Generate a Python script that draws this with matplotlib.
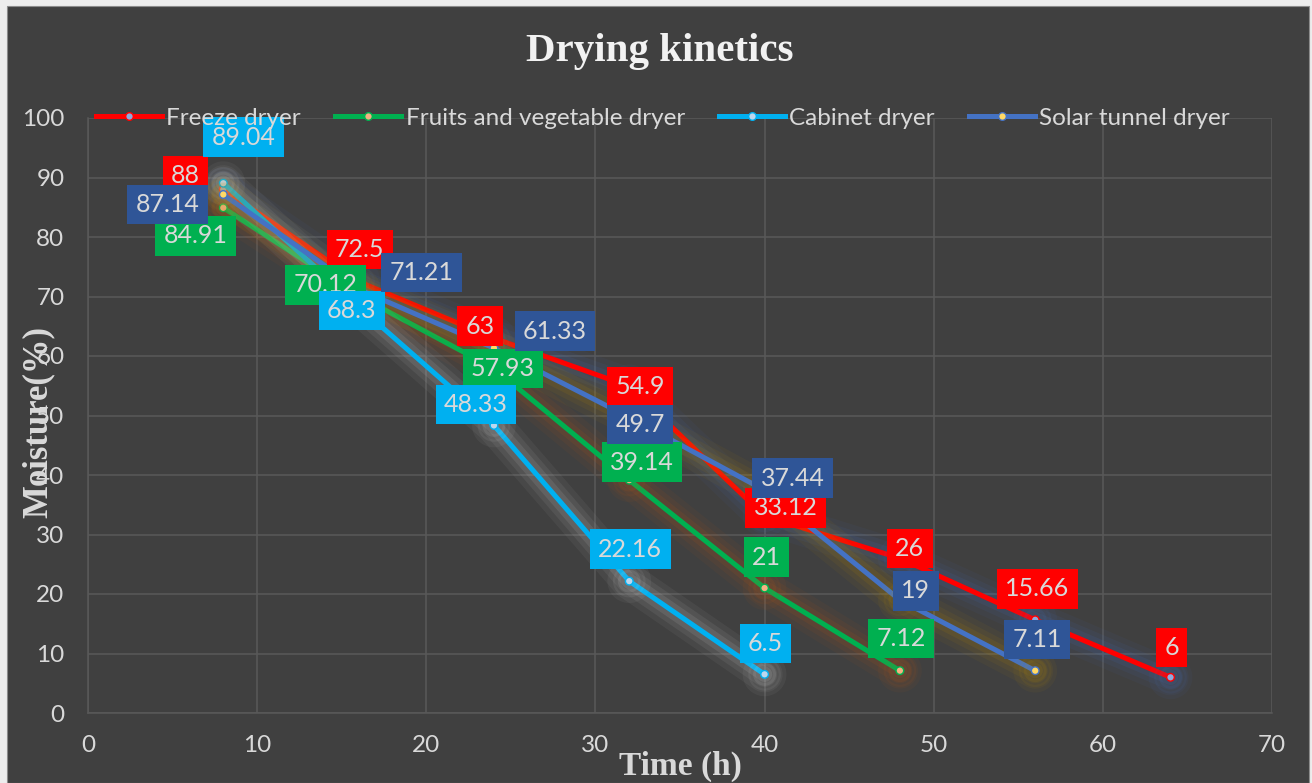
import matplotlib
matplotlib.use("Agg")
import matplotlib.pyplot as plt
import matplotlib.patheffects as pe
from matplotlib.patches import Rectangle

# ---------------- data ----------------
time_h = [8, 16, 24, 32, 40, 48, 56, 64]
freeze = [88, 72.5, 63, 54.9, 33.12, 26, 15.66, 6]
fruits_veg = [84.91, 70.12, 57.93, 39.14, 21, 7.12]
cabinet = [89.04, 68.3, 48.33, 22.16, 6.5]
solar_tunnel = [87.14, 71.21, 61.33, 49.7, 37.44, 19, 7.11]
series_names = ["Freeze dryer", "Fruits and vegetable dryer", "Cabinet dryer", "Solar tunnel dryer"]
x_ticks = [0, 10, 20, 30, 40, 50, 60, 70]
y_ticks = [0, 10, 20, 30, 40, 50, 60, 70, 80, 90, 100]

# ---------------- styles ----------------
line_colors = ["#FF0000", "#00B050", "#00B0F0", "#4472C4"]
box_colors = ["#FF0000", "#00B050", "#00B0F0", "#2F5597"]
marker_faces = ["#8FAADC", "#F4B183", "#BDD7EE", "#FFD966"]
glow_colors = ["#4472C4", "#C55A11", "#D9D9D9", "#BF9000"]
# label offsets in pixels (dx right, dy down on screen)
label_offsets = [
    [(-38, -14), (1, -32), (-14, -12), (11, 0), (21, -8), (10, -10), (2, -31), (1, -30)],
    [(-28, 28), (-33, -11), (9, 0), (13, -18), (2, -31), (1, -32)],
    [(20, -46), (-7, 4), (-18, -21), (1, -32), (1, -31)],
    [(-56, 10), (63, -17), (61, -17), (11, 7), (28, -12), (16, -9), (2, -31)],
]

W, H = 1312, 783
fig = plt.figure(figsize=(W / 100, H / 100), dpi=100)
fig.patch.set_facecolor("#EDEDED")
fig.add_artist(Rectangle((7 / W, 0), (1309 - 7) / W, (H - 6) / H, transform=fig.transFigure,
                         facecolor="#404040", edgecolor="#8C8C8C", linewidth=0.8, zorder=-10))

ax = fig.add_axes([88 / W, (H - 713) / H, (1272 - 88) / W, (713 - 118) / H])
ax.set_facecolor("#404040")
ax.patch.set_alpha(0)

grid_c = "#595959"
ax.set_xlim(0, 70)
ax.set_ylim(0, 100)
ax.set_xticks(x_ticks)
ax.set_yticks(y_ticks)
ax.grid(True, color=grid_c, linewidth=1.1, zorder=0)
for s in ["top", "right"]:
    ax.spines[s].set_visible(False)
for s in ["left", "bottom"]:
    ax.spines[s].set_color(grid_c)
    ax.spines[s].set_linewidth(1.1)
ax.tick_params(length=0, colors="#D9D9D9", labelsize=17.5)
ax.tick_params(axis="x", pad=16)
ax.tick_params(axis="y", pad=17)
for lab in ax.get_xticklabels() + ax.get_yticklabels():
    lab.set_fontfamily("Lato")

all_series = [freeze, fruits_veg, cabinet, solar_tunnel]
handles = []
for i, vals in enumerate(all_series):
    xs = time_h[:len(vals)]
    glow = [pe.Stroke(linewidth=26, foreground=glow_colors[i], alpha=0.06),
            pe.Stroke(linewidth=18, foreground=glow_colors[i], alpha=0.08),
            pe.Stroke(linewidth=11, foreground=glow_colors[i], alpha=0.11),
            pe.Normal()]
    ax.plot(xs, vals, color=line_colors[i], linewidth=3.6, marker="o", markersize=5.5,
            markerfacecolor=marker_faces[i], markeredgecolor=line_colors[i], markeredgewidth=1.0,
            solid_capstyle="round", zorder=2 + i, path_effects=glow)
    h, = ax.plot([], [], color=line_colors[i], linewidth=3.6, marker="o", markersize=5.5,
                 markerfacecolor=marker_faces[i], markeredgecolor=line_colors[i], markeredgewidth=1.0,
                 label=series_names[i])
    handles.append(h)

for i, vals in enumerate(all_series):
    xs = time_h[:len(vals)]
    for j, (xv, yv) in enumerate(zip(xs, vals)):
        dx, dy = label_offsets[i][j]
        ax.annotate(f"{yv:g}", (xv, yv), xytext=(dx, -dy), textcoords="offset pixels",
                    ha="center", va="center", fontsize=18, family="Lato", color="#D9D9D9",
                    bbox=dict(boxstyle="square,pad=0.33", facecolor=box_colors[i], edgecolor="none"),
                    zorder=20 + i, annotation_clip=False)

leg = fig.legend(handles=handles, loc="center", bbox_to_anchor=(663 / W, 1 - 118 / H),
                 bbox_transform=fig.transFigure, ncol=4, frameon=False,
                 handlelength=2.7, handletextpad=0.2, columnspacing=1.4, borderpad=0,
                 prop={"family": "Lato", "size": 17.5})
for t in leg.get_texts():
    t.set_color("#D9D9D9")

fig.text(660 / W, 1 - 52 / H, "Drying kinetics", ha="center", va="center", fontsize=29.5,
         fontweight="bold", family="Liberation Serif", color="#F2F2F2")
fig.text(680 / W, 1 - 766 / H, "Time (h)", ha="center", va="center", fontsize=24,
         fontweight="bold", family="Liberation Serif", color="#D9D9D9")
fig.text(38 / W, 1 - 422 / H, "Moisture(%)", ha="center", va="center", rotation=90, fontsize=25,
         fontweight="bold", family="Liberation Serif", color="#D9D9D9")

fig.savefig("out.png", dpi=100, facecolor=fig.get_facecolor())
